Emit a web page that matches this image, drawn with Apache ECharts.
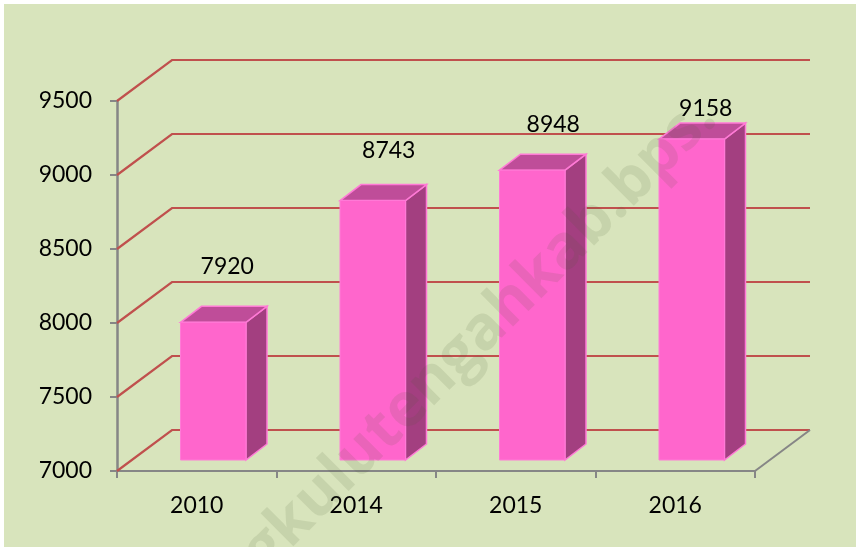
<!DOCTYPE html>
<html>
<head>
<meta charset="utf-8">
<style>html,body{margin:0;padding:0;background:#fff}#main{width:856px;height:547px}</style>
<script src="https://cdn.jsdelivr.net/npm/echarts@6/dist/echarts.min.js"></script>
</head>
<body>
<div id="main"></div>
<script>
var years = ['2010', '2014', '2015', '2016'];
var counts = [7920, 8743, 8948, 9158];
var yTicks = [7000, 7500, 8000, 8500, 9000, 9500];

// fake 3d: how far the back wall and the bar depth are shifted, in px
var wallDx = 55, wallDy = -41;
var barDx = 21, barDy = -16;
// labels were placed by hand in the original, one offset per bar
var labelNudge = [[14, -56], [16, -50], [21, -46], [14, -31]];

var myChart = echarts.init(document.getElementById('main'));
var font = 'Lato';

function renderWall(params, api) {
    var cs = params.coordSys;
    var y = api.coord([0, api.value(1)])[1];
    var x0 = cs.x, x1 = cs.x + cs.width;
    return {
        type: 'polyline',
        shape: { points: [[x0, y], [x0 + wallDx, y + wallDy], [x1 + wallDx, y + wallDy]] },
        style: { fill: 'none', stroke: '#c0504d', lineWidth: 2.2 }
    };
}

function renderFloorEdge(params, api) {
    var cs = params.coordSys;
    var y = api.coord([0, api.value(1)])[1];
    var x1 = cs.x + cs.width;
    return {
        type: 'line',
        shape: { x1: x1, y1: y, x2: x1 + wallDx, y2: y + wallDy },
        style: { stroke: '#868686', lineWidth: 2 }
    };
}

function renderBar(params, api) {
    var i = params.dataIndex;
    var c = api.coord([api.value(0), api.value(1)]);
    var b = api.coord([api.value(0), yTicks[0]]);
    var w = 65.5;
    var l = c[0] - 16.25, r = l + w;
    var top = c[1] - 12.5, bot = b[1] - 11;
    var edge = '#ff7ad6';
    return {
        type: 'group',
        children: [{
            type: 'polygon',
            shape: { points: [[r, top], [r + barDx, top + barDy], [r + barDx, bot + barDy], [r, bot]] },
            style: { fill: '#a33f80', stroke: edge, lineWidth: 1.5 }
        }, {
            type: 'polygon',
            shape: { points: [[l, top], [l + barDx, top + barDy], [r + barDx, top + barDy], [r, top]] },
            style: { fill: '#bf4d99', stroke: edge, lineWidth: 1.5 }
        }, {
            type: 'rect',
            shape: { x: l, y: top, width: w, height: bot - top },
            style: { fill: '#ff66cc', stroke: edge, lineWidth: 1 }
        }, {
            type: 'text',
            style: {
                x: l + w / 2 + labelNudge[i][0],
                y: top + labelNudge[i][1],
                text: String(counts[i]),
                fill: '#000',
                font: '23px ' + font,
                align: 'center',
                verticalAlign: 'middle'
            }
        }]
    };
}

option = {
    animation: false,
    backgroundColor: '#fff',
    graphic: [{
        type: 'rect',
        z: -10,
        shape: { x: 4, y: 4, width: 852, height: 543 },
        style: { fill: '#d8e4bc' }
    }, {
        type: 'text',
        z: 100,
        x: 728,
        y: 130,
        rotation: Math.PI / 4,
        style: {
            text: 'ngkulutengahkab.bps.',
            font: 'bold 61px "Open Sans"',
            fill: 'rgba(70,90,50,0.12)',
            align: 'right',
            verticalAlign: 'bottom'
        }
    }],
    grid: { left: 117, right: 101, top: 101, bottom: 76 },
    xAxis: {
        type: 'category',
        data: years,
        axisLine: { lineStyle: { color: '#868686', width: 2 } },
        axisTick: { show: true, alignWithLabel: false, length: 7, lineStyle: { color: '#868686', width: 2 } },
        axisLabel: { color: '#000', fontFamily: font, fontSize: 23, margin: 23 },
        splitLine: { show: false }
    },
    yAxis: {
        type: 'value',
        min: 7000,
        max: 9500,
        interval: 500,
        axisLine: { show: true, lineStyle: { color: '#868686', width: 2.5 } },
        axisTick: { show: true, length: 7, lineStyle: { color: '#868686', width: 2 } },
        axisLabel: {
            color: '#000', fontFamily: font, fontSize: 23, margin: 25,
            padding: [6, 0, 0, 0],
            formatter: function (v) { return String(v); }
        },
        splitLine: { show: false }
    },
    series: [{
        type: 'custom',
        name: 'wall',
        z: 1,
        silent: true,
        clip: false,
        renderItem: renderWall,
        data: yTicks.map(function (t) { return [0, t]; })
    }, {
        type: 'custom',
        name: 'floor',
        z: 1,
        silent: true,
        clip: false,
        renderItem: renderFloorEdge,
        data: [[0, yTicks[0]]]
    }, {
        type: 'custom',
        name: 'counts',
        z: 5,
        clip: false,
        renderItem: renderBar,
        data: counts.map(function (v, i) { return [i, v]; })
    }]
};

myChart.setOption(option);
</script>
</body>
</html>
